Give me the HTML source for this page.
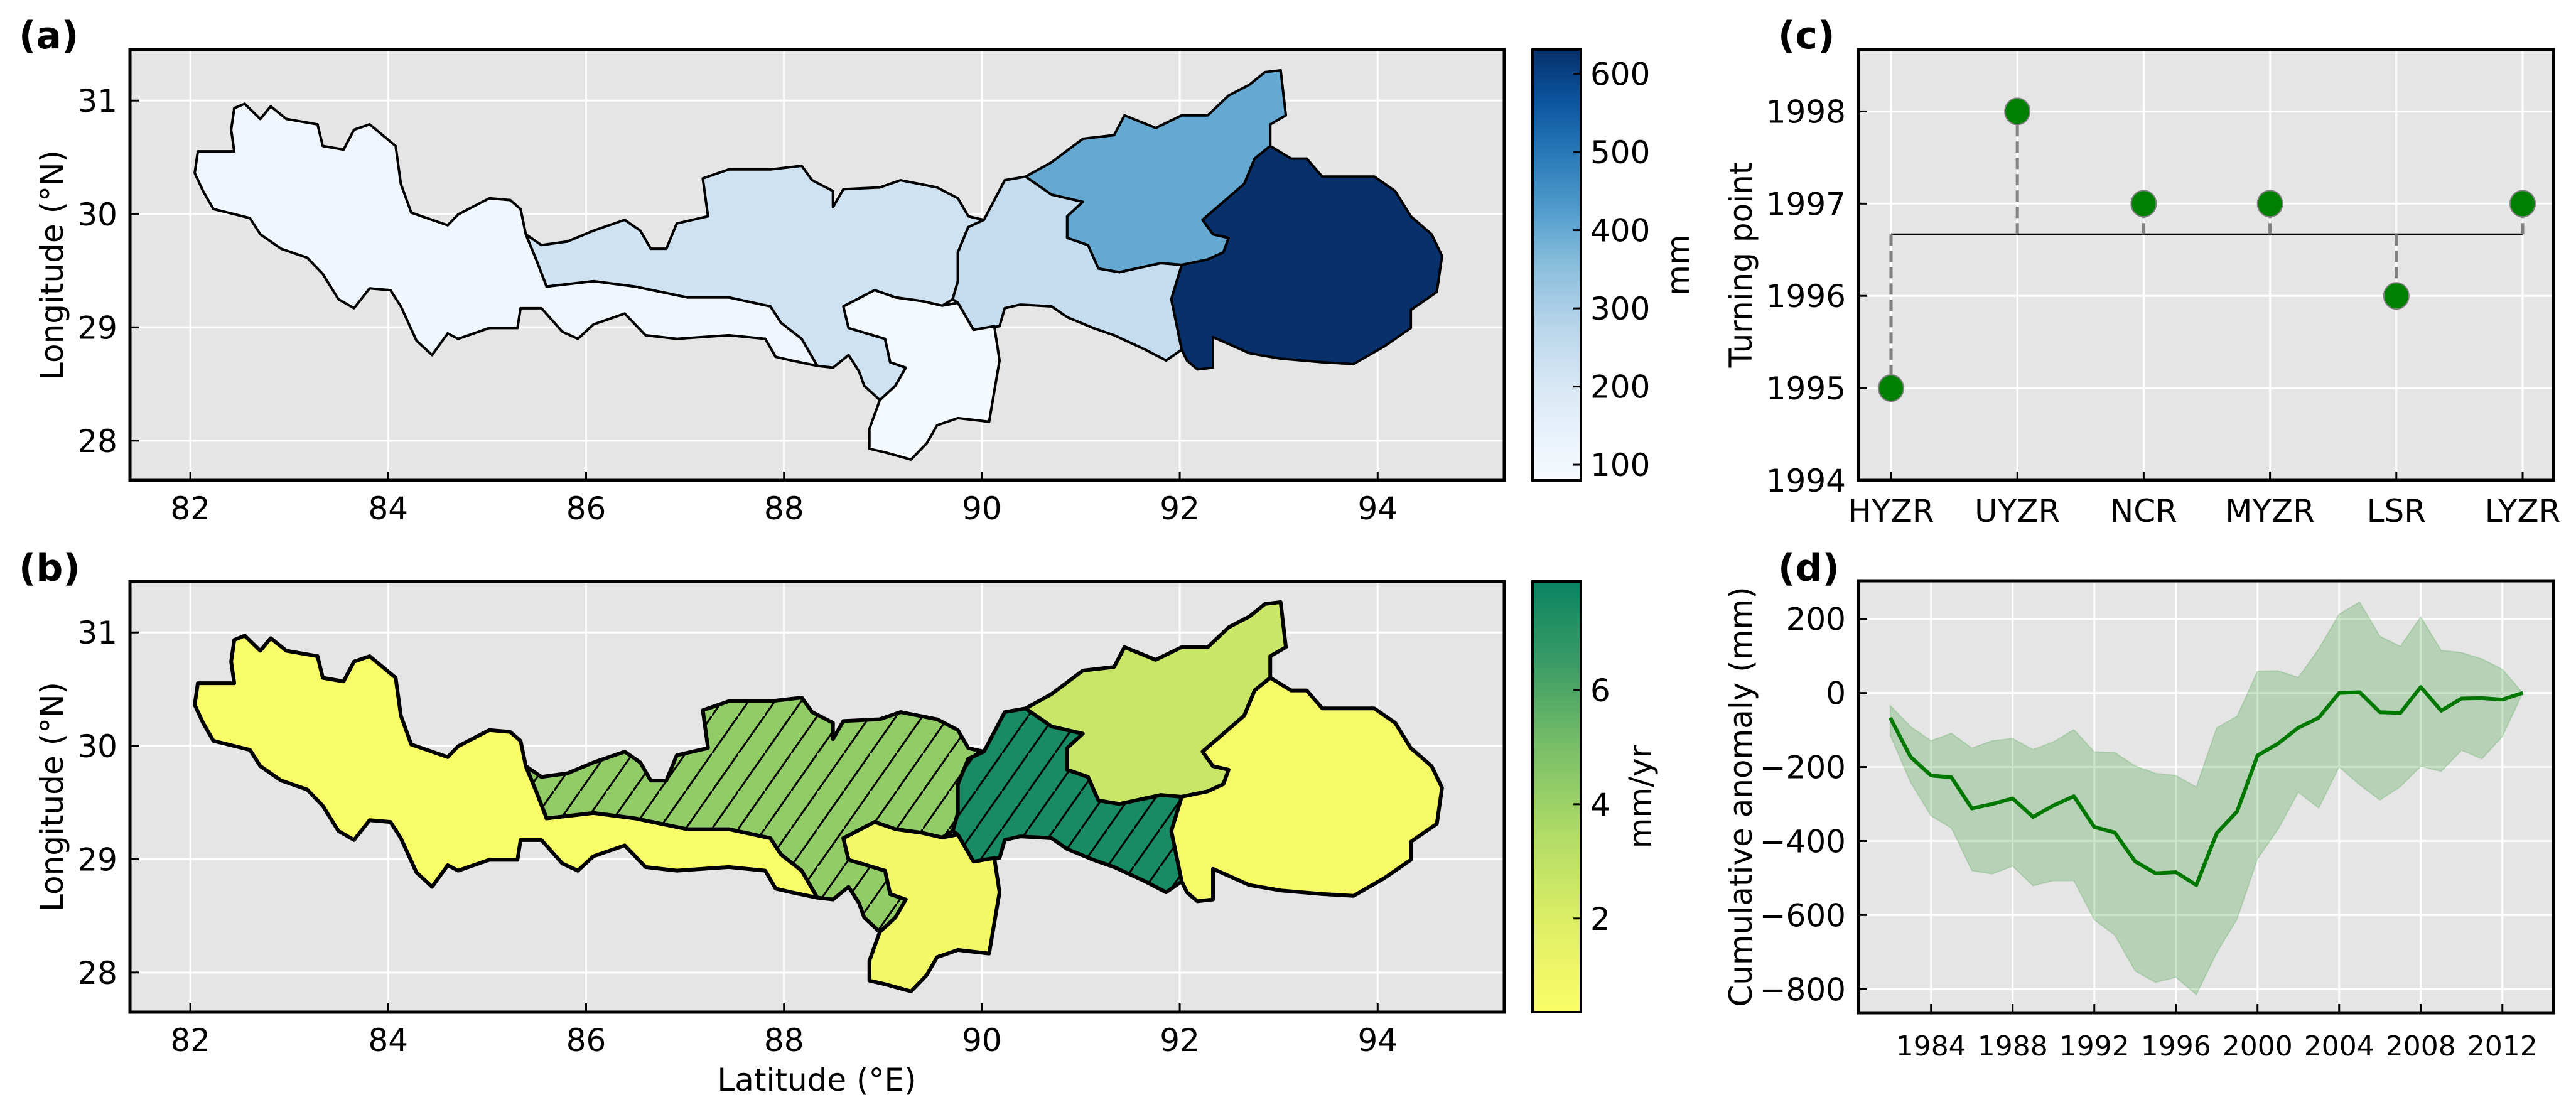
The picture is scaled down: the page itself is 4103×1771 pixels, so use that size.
<!DOCTYPE html>
<html><head><meta charset="utf-8"><style>
html,body{margin:0;padding:0;background:#fff;}
svg{display:block;font-family:"DejaVu Sans","Liberation Sans",sans-serif;}
</style></head><body>
<svg id="fig" width="4103" height="1771" viewBox="0 0 4103 1771" xmlns="http://www.w3.org/2000/svg">
<defs>
<linearGradient id="blues" x1="0" y1="1" x2="0" y2="0">
<stop offset="0" stop-color="#f7fbff"/><stop offset="0.2" stop-color="#dbe9f6"/><stop offset="0.35" stop-color="#bad6eb"/><stop offset="0.5" stop-color="#89bedc"/><stop offset="0.62" stop-color="#539ecd"/><stop offset="0.75" stop-color="#2b7bba"/><stop offset="0.88" stop-color="#0b559f"/><stop offset="1" stop-color="#08306b"/>
</linearGradient>
<linearGradient id="ylgn" x1="0" y1="1" x2="0" y2="0">
<stop offset="0" stop-color="#fbfd66"/><stop offset="0.2" stop-color="#dfef66"/><stop offset="0.4" stop-color="#b3dd66"/><stop offset="0.6" stop-color="#7dc168"/><stop offset="0.8" stop-color="#3e9d66"/><stop offset="1" stop-color="#0a8463"/>
</linearGradient>
<pattern id="hatch" patternUnits="userSpaceOnUse" width="42" height="60">
<path d="M-7,70 L49,-10" stroke="#000" stroke-width="3" fill="none"/>
</pattern>
<clipPath id="clipA"><rect x="207" y="79" width="2189" height="686"/></clipPath>
<clipPath id="clipB"><rect x="207" y="926" width="2189" height="686"/></clipPath>
</defs>
<g id="root"></g>
</svg>
<script>
const regions = ["HYZR","UYZR","NCR","MYZR","LSR","LYZR"];
const turningYears = [1995,1998,1997,1997,1996,1997];
const years = [1982,1983,1984,1985,1986,1987,1988,1989,1990,1991,1992,1993,1994,1995,1996,1997,1998,1999,2000,2001,2002,2003,2004,2005,2006,2007,2008,2009,2010,2011,2012,2013];
const meanAnom = [-67,-173,-223,-228,-312,-300,-285,-335,-304,-279,-362,-377,-455,-487,-484,-519,-379,-320,-169,-137,-94,-67,0,2,-52,-54,16,-48,-15,-14,-18,0];
const upperAnom = [-34,-91,-129,-109,-149,-129,-123,-153,-132,-99,-159,-161,-197,-217,-223,-254,-94,-63,59,60,42,119,213,246,153,126,206,115,109,92,64,0];
const lowerAnom = [-115,-242,-332,-365,-480,-489,-468,-521,-507,-507,-613,-654,-751,-782,-768,-815,-702,-611,-448,-369,-268,-311,-200,-248,-289,-253,-198,-212,-155,-178,-118,0];
const cTicks = [1994,1995,1996,1997,1998];
const dYTicks = [200,0,-200,-400,-600,-800];
const dXTicks = [1984,1988,1992,1996,2000,2004,2008,2012];
const lonTicks = [82,84,86,88,90,92,94];
const latTicks = [28,29,30,31];
const cbATicks = [100,200,300,400,500,600];
const cbBTicks = [2,4,6];
const basinPrecip = {HYZR:110, UYZR:220, NCR:245, MYZR:90, LSR:400, LYZR:630};
const basinTrend = {HYZR:0.5, UYZR:4.3, NCR:7.5, MYZR:0.8, LSR:2.6, LYZR:0.7};
const hatched = {UYZR:true, NCR:true};

const shapes = {
HYZR:[[187,480],[190,420],[225,420],[222,360],[225,300],[235,288],[250,330],[260,295],[275,330],[305,345],[310,405],[330,415],[340,360],[355,345],[380,405],[385,510],[395,590],[430,625],[440,595],[470,550],[490,555],[500,580],[505,650],[515,720],[525,795],[570,780],[610,795],[660,825],[700,825],[740,850],[750,895],[770,940],[780,990],[785,1015],[760,1000],[745,990],[735,940],[700,930],[650,940],[620,930],[600,870],[570,900],[555,940],[540,920],[520,855],[500,855],[497,910],[470,910],[440,940],[430,925],[415,985],[400,945],[385,850],[375,805],[355,800],[340,855],[325,830],[310,760],[295,715],[270,690],[250,650],[240,605],[205,580],[195,530]],
UYZR:[[505,650],[520,680],[545,670],[570,640],[600,610],[615,640],[625,690],[640,690],[650,620],[680,600],[675,495],[700,470],[740,470],[770,460],[780,500],[800,530],[800,575],[810,525],[845,520],[865,500],[900,520],[920,550],[930,600],[945,610],[930,630],[920,700],[920,780],[915,830],[905,848],[885,835],[860,825],[840,805],[810,850],[815,910],[850,940],[855,1005],[870,1020],[860,1070],[845,1110],[830,1070],[825,1030],[815,985],[800,1020],[785,1015],[780,990],[770,940],[750,895],[740,850],[700,825],[660,825],[610,795],[570,780],[525,795],[515,720]],
MYZR:[[810,850],[840,805],[860,825],[885,835],[905,848],[920,840],[935,915],[955,905],[960,1000],[950,1170],[920,1160],[900,1180],[890,1230],[875,1275],[850,1255],[835,1245],[835,1190],[845,1110],[860,1070],[870,1020],[855,1005],[850,940],[815,910]],
NCR:[[930,630],[945,610],[965,500],[985,490],[1010,540],[1040,560],[1025,600],[1025,660],[1045,680],[1055,745],[1075,755],[1115,730],[1135,735],[1125,830],[1135,970],[1120,1000],[1100,970],[1070,930],[1050,910],[1025,880],[1010,850],[980,845],[965,855],[960,905],[935,915],[920,840],[915,830],[920,780],[920,700]],
LSR:[[985,490],[1010,450],[1040,385],[1070,375],[1080,320],[1110,355],[1135,320],[1160,320],[1180,265],[1200,235],[1215,200],[1230,195],[1235,320],[1220,345],[1220,405],[1205,440],[1195,510],[1155,610],[1165,650],[1180,660],[1175,700],[1160,720],[1135,735],[1115,730],[1075,755],[1055,745],[1045,680],[1025,660],[1025,600],[1040,560],[1010,540]],
LYZR:[[1135,735],[1160,720],[1175,700],[1180,660],[1165,650],[1155,610],[1195,510],[1205,440],[1220,405],[1240,440],[1255,440],[1270,490],[1320,490],[1340,530],[1355,600],[1375,650],[1385,710],[1380,810],[1355,860],[1355,910],[1330,960],[1300,1010],[1270,1005],[1230,995],[1200,980],[1165,935],[1165,1020],[1150,1025],[1140,1000],[1135,970],[1125,830]]
};

const NS="http://www.w3.org/2000/svg";
const root=document.getElementById('root');
function mk(tag,attrs,parent){const e=document.createElementNS(NS,tag);for(const k in attrs)e.setAttribute(k,attrs[k]);(parent||root).appendChild(e);return e;}
function txt(s,attrs,parent){const e=mk('text',attrs,parent);e.textContent=s;return e;}
const FS=50;

const MAP={x0:207,x1:2396,lon0:81.39,lon1:95.28,lat0:27.65,lat1:31.45,h:686};
function mx(lon){return MAP.x0+(lon-MAP.lon0)/(MAP.lon1-MAP.lon0)*(MAP.x1-MAP.x0);}
function my(lat,top){return top+MAP.h-(lat-MAP.lat0)/(MAP.lat1-MAP.lat0)*MAP.h;}
function tr(p,top){return [p[0]/0.603, p[1]/1.742 + (top-79)];}

function blueColor(v){const t=Math.max(0,Math.min(1,(v-80)/(631-80)));
 const st=[[0,[247,251,255]],[0.2,[219,233,246]],[0.35,[186,214,235]],[0.5,[137,190,220]],[0.62,[83,158,205]],[0.75,[43,123,186]],[0.88,[11,85,159]],[1,[8,48,107]]];
 return interp(st,t);}
function ylgnColor(v){const t=Math.max(0,Math.min(1,(v-0.36)/(7.9-0.36)));
 const st=[[0,[251,253,102]],[0.2,[223,239,102]],[0.4,[179,221,102]],[0.6,[125,193,104]],[0.8,[62,157,102]],[1,[10,132,99]]];
 return interp(st,t);}
function interp(st,t){for(let i=1;i<st.length;i++){if(t<=st[i][0]){const a=st[i-1],b=st[i];const f=(t-a[0])/(b[0]-a[0]);const c=a[1].map((x,j)=>Math.round(x+(b[1][j]-x)*f));return `rgb(${c})`;}}return `rgb(${st[st.length-1][1]})`;}

function mapPanel(top,clipId,colorFn,vals,name,isB){
 const g=mk('g',{});
 
 
 const bg=mk('rect',{x:MAP.x0,y:top,width:MAP.x1-MAP.x0,height:MAP.h,fill:'#e5e5e5'},g);
 
 
 lonTicks.forEach(v=>{const l=mk('line',{x1:mx(v),x2:mx(v),y1:top,y2:top+MAP.h,stroke:'#fff','stroke-width':3},g);
  });
 latTicks.forEach(v=>{const l=mk('line',{x1:MAP.x0,x2:MAP.x1,y1:my(v,top),y2:my(v,top),stroke:'#fff','stroke-width':3},g);
  });
 const mg=mk('g',{'clip-path':`url(#${clipId})`},g);
 regions.forEach(r=>{
  const pts=shapes[r].map(p=>tr(p,top).join(',')).join(' ');
  const p=mk('polygon',{points:pts,fill:colorFn(vals[r]),stroke:'#000','stroke-width':isB?6:4,'stroke-linejoin':'round'},mg);
  
  
  if(isB&&hatched[r]){const h=mk('polygon',{points:pts,fill:'url(#hatch)',stroke:'none'},mg);
   }
 });
 lonTicks.forEach(v=>{mk('line',{x1:mx(v),x2:mx(v),y1:top+MAP.h,y2:top+MAP.h-14,stroke:'#000','stroke-width':3},g);
  const t=txt(v,{x:mx(v),y:top+MAP.h+62,'text-anchor':'middle','font-size':FS},g);
  });
 latTicks.forEach(v=>{mk('line',{x1:MAP.x0,x2:MAP.x0+14,y1:my(v,top),y2:my(v,top),stroke:'#000','stroke-width':3},g);
  const t=txt(v,{x:MAP.x0-20,y:my(v,top)+18,'text-anchor':'end','font-size':FS},g);
  });
 const fr=mk('rect',{x:MAP.x0,y:top,width:MAP.x1-MAP.x0,height:MAP.h,fill:'none',stroke:'#000','stroke-width':5},g);
 
 const yl=txt('Longitude (°N)',{x:0,y:0,transform:`translate(100,${top+MAP.h/2}) rotate(-90)`,'text-anchor':'middle','font-size':FS},g);
 
 return g;
}
mapPanel(79,'clipA',blueColor,basinPrecip,'map-precipitation',false);
mapPanel(926,'clipB',ylgnColor,basinTrend,'map-trend',true);
const xl=txt('Latitude (°E)',{x:1301,y:1737,'text-anchor':'middle','font-size':FS});


function colorbar(top,grad,ticks,vmin,vmax,label,name,lx){
 const g=mk('g',{});
 
 mk('rect',{x:2441,y:top,width:77,height:686,fill:`url(#${grad})`,stroke:'#000','stroke-width':4},g);
 ticks.forEach(v=>{const y=top+686-(v-vmin)/(vmax-vmin)*686;
  mk('line',{x1:2518,x2:2506,y1:y,y2:y,stroke:'#000','stroke-width':3},g);
  const t=txt(v,{x:2533,y:y+18,'font-size':FS},g);
  });
 const l=txt(label,{x:0,y:0,transform:`translate(${lx},${top+343}) rotate(-90)`,'text-anchor':'middle','font-size':FS},g);
 
}
colorbar(79,'blues',cbATicks,80,631,'mm','colorbar-precip',2690);
colorbar(926,'ylgn',cbBTicks,0.36,7.9,'mm/yr','colorbar-trend',2630);

[['(a)',30,77],['(b)',30,925],['(c)',2832,77],['(d)',2832,925]].forEach(a=>{
 const t=txt(a[0],{x:a[1],y:a[2],'font-size':60,'font-weight':'bold'});
 });

const C={x0:2960,x1:4067,top:79,h:686,y0:1994,y1:1998.67};
function cx(i){return 3012+i*(4018-3012)/(regions.length-1);}
function cy(v){return C.top+C.h-(v-C.y0)/(C.y1-C.y0)*C.h;}
(function(){
 const g=mk('g',{});
 mk('rect',{x:C.x0,y:C.top,width:C.x1-C.x0,height:C.h,fill:'#e5e5e5'},g);
 regions.forEach((r,i)=>mk('line',{x1:cx(i),x2:cx(i),y1:C.top,y2:C.top+C.h,stroke:'#fff','stroke-width':3},g));
 cTicks.forEach(v=>mk('line',{x1:C.x0,x2:C.x1,y1:cy(v),y2:cy(v),stroke:'#fff','stroke-width':3},g));
 const mean=turningYears.reduce((a,b)=>a+b,0)/turningYears.length;
 const ml=mk('line',{x1:cx(0),x2:cx(regions.length-1),y1:cy(mean),y2:cy(mean),stroke:'#000','stroke-width':3},g);
 
 turningYears.forEach((v,i)=>{
  const s=mk('line',{x1:cx(i),x2:cx(i),y1:cy(mean),y2:cy(v),stroke:'#808080','stroke-width':5,'stroke-dasharray':'18,8'},g);
  
  const c=mk('ellipse',{cx:cx(i),cy:cy(v),rx:20,ry:21,fill:'#008000',stroke:'#808080','stroke-width':2},g);
  
  mk('line',{x1:cx(i),x2:cx(i),y1:C.top+C.h,y2:C.top+C.h-14,stroke:'#000','stroke-width':3},g);
  const t=txt(regions[i],{x:cx(i),y:C.top+C.h+66,'text-anchor':'middle','font-size':FS},g);
  
 });
 cTicks.forEach(v=>{mk('line',{x1:C.x0,x2:C.x0+14,y1:cy(v),y2:cy(v),stroke:'#000','stroke-width':3},g);
  const t=txt(v,{x:C.x0-20,y:cy(v)+18,'text-anchor':'end','font-size':FS},g);
  });
 mk('rect',{x:C.x0,y:C.top,width:C.x1-C.x0,height:C.h,fill:'none',stroke:'#000','stroke-width':5},g);
 const yl=txt('Turning point',{x:0,y:0,transform:`translate(2790,${C.top+C.h/2}) rotate(-90)`,'text-anchor':'middle','font-size':FS},g);
 
})();

const D={x0:2960,x1:4067,top:925,h:688,yr0:1980.44,yr1:2014.5,v0:-864,v1:303};
function dx(y){return D.x0+(y-D.yr0)/(D.yr1-D.yr0)*(D.x1-D.x0);}
function dy(v){return D.top+D.h-(v-D.v0)/(D.v1-D.v0)*D.h;}
(function(){
 const g=mk('g',{});
 mk('rect',{x:D.x0,y:D.top,width:D.x1-D.x0,height:D.h,fill:'#e5e5e5'},g);
 dXTicks.forEach(v=>mk('line',{x1:dx(v),x2:dx(v),y1:D.top,y2:D.top+D.h,stroke:'#fff','stroke-width':3},g));
 dYTicks.forEach(v=>mk('line',{x1:D.x0,x2:D.x1,y1:dy(v),y2:dy(v),stroke:'#fff','stroke-width':3},g));
 let pts=years.map((y,i)=>dx(y)+','+dy(upperAnom[i]));
 for(let i=years.length-1;i>=0;i--)pts.push(dx(years[i])+','+dy(lowerAnom[i]));
 const band=mk('polygon',{points:pts.join(' '),fill:'#008000','fill-opacity':0.2,stroke:'#008000','stroke-opacity':0.15,'stroke-width':2},g);
 
 const line=mk('polyline',{points:years.map((y,i)=>dx(y)+','+dy(meanAnom[i])).join(' '),fill:'none',stroke:'#007800','stroke-width':6,'stroke-linejoin':'round'},g);
 
 dXTicks.forEach(v=>{mk('line',{x1:dx(v),x2:dx(v),y1:D.top+D.h,y2:D.top+D.h-14,stroke:'#000','stroke-width':3},g);
  const t=txt(v,{x:dx(v),y:D.top+D.h+68,'text-anchor':'middle','font-size':44},g);
  });
 dYTicks.forEach(v=>{mk('line',{x1:D.x0,x2:D.x0+14,y1:dy(v),y2:dy(v),stroke:'#000','stroke-width':3},g);
  const t=txt(String(v).replace('-','\u2212'),{x:D.x0-20,y:dy(v)+18,'text-anchor':'end','font-size':FS},g);
  });
 mk('rect',{x:D.x0,y:D.top,width:D.x1-D.x0,height:D.h,fill:'none',stroke:'#000','stroke-width':5},g);
 const yl=txt('Cumulative anomaly (mm)',{x:0,y:0,transform:`translate(2790,${D.top+D.h/2}) rotate(-90)`,'text-anchor':'middle','font-size':FS},g);
 
})();
</script>
</body></html>
